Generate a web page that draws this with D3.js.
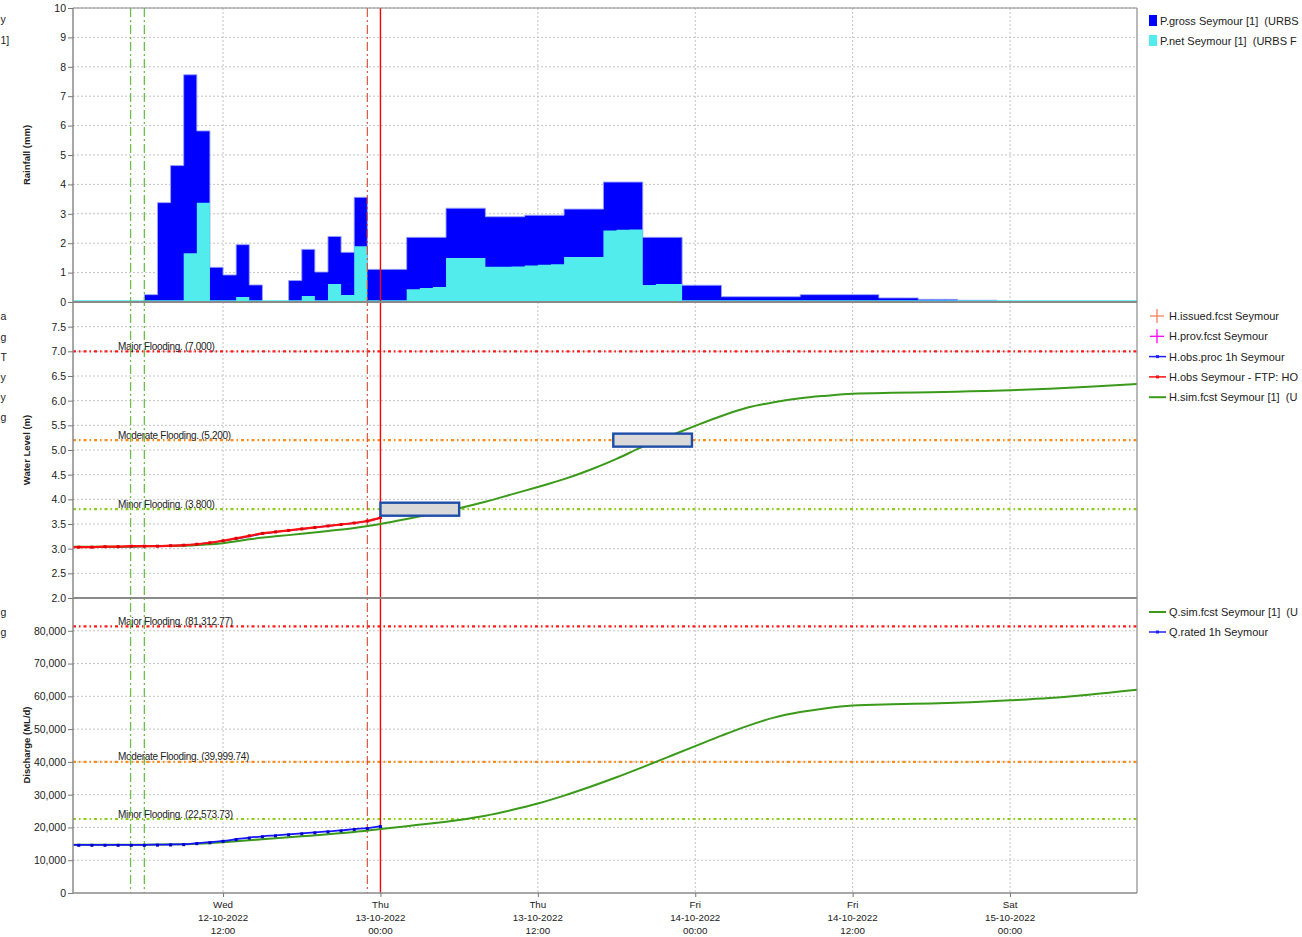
<!DOCTYPE html>
<html><head><meta charset="utf-8">
<script src="https://cdn.jsdelivr.net/npm/d3@7"></script>
<style>
body{margin:0;background:#fff;overflow:hidden}
text{font-family:"Liberation Sans",Arial,sans-serif;fill:#222;white-space:pre}
</style>
</head><body>
<svg id="c" width="1302" height="937"></svg>
<script>
// ---------------- DATA ----------------
// rainfall: hourly values starting 12-10-2022 00:00 (hour index 0)
const pGross = [0,0,0,0,0,0,0.25,3.38,4.64,7.73,5.82,1.18,0.92,1.95,0.58,0,0,0.73,1.79,1.02,2.23,1.69,3.56,
  1.11,1.11,1.11,2.20,2.20,2.20,3.19,3.19,3.19,2.90,2.90,2.90,2.95,2.95,2.95,3.16,3.16,3.16,4.08,4.08,4.08,
  2.20,2.20,2.20,0.57,0.57,0.57,0.18,0.18,0.18,0.18,0.18,0.18,0.25,0.25,0.25,0.25,0.25,0.25,0.14,0.14,0.14,
  0.09,0.09,0.09,0.06,0.06,0.06,0,0,0,0,0,0,0,0,0,0,0];
const pNet = [0,0,0,0,0,0,0,0,0,1.66,3.38,0,0,0.17,0,0,0,0,0.20,0,0.61,0.24,1.90,
  0,0,0,0.43,0.48,0.51,1.50,1.50,1.50,1.20,1.20,1.21,1.24,1.27,1.28,1.53,1.53,1.53,2.43,2.46,2.47,
  0.58,0.61,0.61,0.05,0.05,0.05,0,0,0,0,0,0,0,0,0,0,0,0,0,0,0,
  0,0,0,0,0,0,0,0,0,0,0,0,0,0,0,0,0];

// observed (hourly, hour 0..24)
const obsHours = [0,1,2,3,4,5,6,7,8,9,10,11,12,13,14,15,16,17,18,19,20,21,22,23,24];
const hObs     = [3.03,3.03,3.03,3.04,3.04,3.05,3.05,3.05,3.06,3.07,3.09,3.12,3.16,3.21,3.26,3.31,3.34,3.37,3.40,3.43,3.46,3.49,3.52,3.56,3.63];
const hObsProc = [3.03,3.03,3.03,3.04,3.04,3.04,3.05,3.05,3.06,3.07,3.09,3.12,3.16,3.20,3.25,3.30,3.34,3.37,3.40,3.43,3.46,3.49,3.52,3.56,3.62];
const qRated   = [14700,14700,14700,14700,14700,14700,14700,14750,14800,14900,15200,15500,15900,16400,16900,17300,17600,17900,18200,18500,18800,19100,19500,19800,20400];

// simulated forecast (hours from 12-10-2022 00:00)
const simHours = [0,3,6,9,10.5,12,14,16,18,20,22,24,26,28,30,32,34,36,38,40,42,44,46,48,50,52,54,56,58,60,63,66,69,72,75,78,81.7];
const hSim = [3.04,3.04,3.05,3.06,3.08,3.11,3.19,3.25,3.30,3.36,3.42,3.50,3.60,3.71,3.82,3.95,4.10,4.25,4.41,4.60,4.82,5.07,5.28,5.49,5.69,5.86,5.97,6.05,6.10,6.14,6.16,6.17,6.19,6.21,6.24,6.28,6.34];
const qSim = [14700,14700,14750,14850,15100,15500,16100,16700,17300,17900,18600,19500,20400,21300,22300,23600,25300,27300,29700,32400,35300,38400,41600,44800,48000,51000,53500,55200,56400,57200,57600,57800,58200,58800,59500,60500,62000];

// flood classes
const floodNames = ["Major Flooding.", "Moderate Flooding.", "Minor Flooding."];
const floodLevelsH = [7.0, 5.2, 3.8];
const floodLabelsH = ["(7.000)", "(5.200)", "(3.800)"];
const floodLevelsQ = [81312.77, 39999.74, 22573.73];
const floodLabelsQ = ["(81,312.77)", "(39,999.74)", "(22,573.73)"];

// forecast class windows (start hour, end hour, level)
const boxStart = [24, 41.75];
const boxEnd   = [30, 47.75];
const boxLevel = [3.8, 5.2];

// vertical markers (hours)
const greenMarks = [4.95, 6.0];
const redDashMark = 23.0;
const nowMark = 24.0;

// axis ticks
const xTickHours = [12, 24, 36, 48, 60, 72];
const rainTicks = [0,1,2,3,4,5,6,7,8,9,10];
const levelTicks = [2.0,2.5,3.0,3.5,4.0,4.5,5.0,5.5,6.0,6.5,7.0,7.5];
const flowTicks = [0,10000,20000,30000,40000,50000,60000,70000,80000];

// legends (as much as is visible in the window)
const legRain = ["P.gross Seymour [1]  (URBS", "P.net Seymour [1]  (URBS F"];
const legLevel = ["H.issued.fcst Seymour", "H.prov.fcst Seymour", "H.obs.proc 1h Seymour", "H.obs Seymour - FTP: HO", "H.sim.fcst Seymour [1]  (U"];
const legFlow = ["Q.sim.fcst Seymour [1]  (U", "Q.rated 1h Seymour"];

// ---------------- DRAW ----------------
const base = new Date(2022, 9, 12, 0, 0);
const T = h => new Date(base.getTime() + h * 3600e3);
const L = 73, R = 1137;
const x = d3.scaleTime().domain([T(0.56), T(81.68)]).range([L, R]);
const yR = d3.scaleLinear().domain([0, 10]).range([302, 8]);
const yH = d3.scaleLinear().domain([2, 8]).range([598, 302]);
const yQ = d3.scaleLinear().domain([0, 90000]).range([893, 598]);

const svg = d3.select("#c");
const defs = svg.append("defs");
[["cR",8,302],["cH",302,598],["cQ",598,893]].forEach(([id,a,b])=>{
  defs.append("clipPath").attr("id",id).append("rect").attr("x",L).attr("y",a).attr("width",R-L).attr("height",b-a);
});

const gridCol = "#c4c4c4";
function grid(y, ticks, top, bot){
  const g = svg.append("g");
  g.selectAll("line.h").data(ticks).join("line")
    .attr("x1",L).attr("x2",R).attr("y1",d=>y(d)).attr("y2",d=>y(d))
    .attr("stroke",gridCol).attr("stroke-dasharray","2,2").attr("stroke-width",1);
  g.selectAll("line.v").data(xTickHours).join("line")
    .attr("x1",d=>x(T(d))).attr("x2",d=>x(T(d))).attr("y1",top).attr("y2",bot)
    .attr("stroke",gridCol).attr("stroke-dasharray","2,2").attr("stroke-width",1);
}
grid(yR, rainTicks.slice(1), 8, 302);
grid(yH, levelTicks.slice(1), 302, 598);
grid(yQ, flowTicks.slice(1), 598, 893);

// rainfall histograms (hourly step areas)
const gRain = svg.append("g").attr("clip-path","url(#cR)");
const withEnd = arr => arr.concat([arr[arr.length-1]]);
const grossArea = d3.area().curve(d3.curveStepAfter)
  .x((d,i)=>x(T(i))).y0(yR(0)).y1(d=>yR(d));
gRain.append("path").datum(withEnd(pGross)).attr("d",grossArea)
  .attr("fill","#0000ff").attr("stroke","#9aa0ff").attr("stroke-width",0.9);
const netArea = d3.area().curve(d3.curveStepAfter)
  .x((d,i)=>x(T(i))).y0(yR(0)).y1(d=>Math.min(yR(d), yR(0)-1.8));
gRain.append("path").datum(withEnd(pNet)).attr("d",netArea).attr("fill","#52ecec");

// flood lines
const floodCols = ["#ff1a1a", "#ff8c1a", "#8ccf1e"];
function floodLines(y, levels, labels, clip){
  const g = svg.append("g").attr("clip-path",`url(#${clip})`);
  g.selectAll("line").data(levels).join("line")
    .attr("x1",L).attr("x2",R).attr("y1",d=>y(d)).attr("y2",d=>y(d))
    .attr("stroke",(d,i)=>floodCols[i]).attr("stroke-width",2.2).attr("stroke-dasharray","3,3,1.5,3");
  svg.append("g").selectAll("text").data(levels).join("text")
    .attr("x",118).attr("y",d=>y(d)-1.5).attr("font-size",10).attr("letter-spacing",-0.3).attr("fill","#111")
    .text((d,i)=>floodNames[i]+" "+labels[i]);
}
floodLines(yH, floodLevelsH, floodLabelsH, "cH");
floodLines(yQ, floodLevelsQ, floodLabelsQ, "cQ");

// vertical markers
const vm = svg.append("g");
vm.selectAll("line.gm").data(greenMarks).join("line")
  .attr("x1",d=>x(T(d))).attr("x2",d=>x(T(d))).attr("y1",8).attr("y2",893)
  .attr("stroke","#6cc04a").attr("stroke-width",1.3).attr("stroke-dasharray","9,3,2,3");
vm.append("line").attr("x1",x(T(redDashMark))).attr("x2",x(T(redDashMark))).attr("y1",8).attr("y2",893)
  .attr("stroke","#e0452e").attr("stroke-width",1.1).attr("stroke-dasharray","9,3,2,3");
vm.append("line").attr("x1",x(T(nowMark))).attr("x2",x(T(nowMark))).attr("y1",8).attr("y2",893)
  .attr("stroke","#ff0000").attr("stroke-width",1.4);

// lines
const lineH = (xs) => d3.line().x((d,i)=>x(T(xs[i]))).y(d=>yH(d)).curve(d3.curveMonotoneX);
const lineQ = (xs) => d3.line().x((d,i)=>x(T(xs[i]))).y(d=>yQ(d)).curve(d3.curveMonotoneX);
const gH = svg.append("g").attr("clip-path","url(#cH)");
gH.append("path").datum(hObsProc).attr("d",lineH(obsHours)).attr("fill","none").attr("stroke","#2020ff").attr("stroke-width",1.5);
gH.append("path").datum(hSim).attr("d",lineH(simHours)).attr("fill","none").attr("stroke","#3a9a1a").attr("stroke-width",2);
gH.append("path").datum(hObs).attr("d",lineH(obsHours)).attr("fill","none").attr("stroke","#ff1010").attr("stroke-width",2.2);
gH.selectAll("rect.m").data(hObs).join("rect")
  .attr("x",(d,i)=>x(T(obsHours[i]))-1.5).attr("y",d=>yH(d)-1.5).attr("width",3).attr("height",3).attr("fill","#e00000");

// forecast boxes
svg.append("g").selectAll("rect").data(boxLevel).join("rect")
  .attr("x",(d,i)=>x(T(boxStart[i]))).attr("width",(d,i)=>x(T(boxEnd[i]))-x(T(boxStart[i])))
  .attr("y",d=>yH(d)-6.5).attr("height",13)
  .attr("fill","#d9d9d9").attr("stroke","#1f4ea8").attr("stroke-width",2.4);

const gQ = svg.append("g").attr("clip-path","url(#cQ)");
gQ.append("path").datum(qSim).attr("d",lineQ(simHours)).attr("fill","none").attr("stroke","#3a9a1a").attr("stroke-width",2);
gQ.append("path").datum(qRated).attr("d",lineQ(obsHours)).attr("fill","none").attr("stroke","#1515ff").attr("stroke-width",1.8);
gQ.selectAll("rect.m").data(qRated).join("rect")
  .attr("x",(d,i)=>x(T(obsHours[i]))-1.5).attr("y",d=>yQ(d)-1).attr("width",3).attr("height",3).attr("fill","#0000cc");

// frame
const fr = svg.append("g").attr("stroke","#8a8a8a").attr("fill","none");
fr.append("line").attr("x1",L).attr("x2",R).attr("y1",8).attr("y2",8).attr("stroke-width",1.2);
fr.append("line").attr("x1",L).attr("x2",R).attr("y1",302).attr("y2",302).attr("stroke-width",2);
fr.append("line").attr("x1",L).attr("x2",R).attr("y1",598).attr("y2",598).attr("stroke-width",2);
fr.append("line").attr("x1",L).attr("x2",R).attr("y1",893).attr("y2",893).attr("stroke-width",1.5);
fr.append("line").attr("x1",L).attr("x2",L).attr("y1",8).attr("y2",893).attr("stroke-width",1.5);
fr.append("line").attr("x1",R).attr("x2",R).attr("y1",8).attr("y2",893).attr("stroke-width",1.2);

// y axes
function yAxis(y, ticks, fmt){
  const g = svg.append("g").attr("transform",`translate(${L},0)`)
    .call(d3.axisLeft(y).tickValues(ticks).tickFormat(fmt).tickSize(5).tickPadding(2));
  g.select(".domain").remove();
  g.selectAll(".tick line").attr("stroke","#777");
  g.selectAll(".tick text").attr("font-size",10.5).attr("font-family","Liberation Sans, Arial, sans-serif").attr("fill","#222");
}
yAxis(yR, rainTicks, d3.format("d"));
yAxis(yH, levelTicks, d3.format(".1f"));
yAxis(yQ, flowTicks, d3.format(","));

// x axis
const xa = svg.append("g").attr("transform","translate(0,893)")
  .call(d3.axisBottom(x).tickValues(xTickHours.map(T)).tickSize(4).tickFormat(""));
xa.select(".domain").remove();
xa.selectAll(".tick line").attr("stroke","#777");
const fmts = [d3.timeFormat("%a"), d3.timeFormat("%d-%m-%Y"), d3.timeFormat("%H:%M")];
svg.append("g").selectAll("g").data(xTickHours).join("g").each(function(h){
  const g = d3.select(this);
  fmts.forEach((f,k)=>{
    g.append("text").attr("x",x(T(h))).attr("y",908+k*13).attr("text-anchor","middle")
      .attr("font-size",9.8).text(f(T(h)));
  });
});

// axis titles
[["Rainfall (mm)",155],["Water Level (m)",450],["Discharge (ML/d)",745]].forEach(([t,cy])=>{
  svg.append("text").attr("transform",`translate(30,${cy}) rotate(-90)`).attr("text-anchor","middle")
    .attr("font-size",9.5).attr("font-weight","bold").text(t);
});

// legends
const lg = svg.append("g");
const LF = 11;
legRain.forEach((t,i)=>{
  lg.append("rect").attr("x",1149).attr("y",15+i*20).attr("width",8).attr("height",11).attr("fill",i?"#52ecec":"#0000ff");
  lg.append("text").attr("x",1160).attr("y",25+i*20).attr("font-size",LF).text(t);
});
const levCols = ["#f4805c","#ff00ff","#2020ff","#ff1010","#3a9a1a"];
legLevel.forEach((t,i)=>{
  const cy = 316+i*20.3;
  if(i<2){
    lg.append("line").attr("x1",1150).attr("x2",1164).attr("y1",cy).attr("y2",cy).attr("stroke",levCols[i]).attr("stroke-width",1.3);
    lg.append("line").attr("x1",1157).attr("x2",1157).attr("y1",cy-7).attr("y2",cy+7).attr("stroke",levCols[i]).attr("stroke-width",1.3);
  } else {
    lg.append("line").attr("x1",1149).attr("x2",1166).attr("y1",cy).attr("y2",cy).attr("stroke",levCols[i]).attr("stroke-width",i==4?2:1.5);
    if(i<4) lg.append("rect").attr("x",1156).attr("y",cy-1.5).attr("width",3).attr("height",3).attr("fill",levCols[i]);
  }
  lg.append("text").attr("x",1169).attr("y",cy+4).attr("font-size",LF).text(t);
});
const flowCols = ["#3a9a1a","#2020ff"];
legFlow.forEach((t,i)=>{
  const cy = 612+i*20;
  lg.append("line").attr("x1",1149).attr("x2",1166).attr("y1",cy).attr("y2",cy).attr("stroke",flowCols[i]).attr("stroke-width",i?1.5:2);
  if(i) lg.append("rect").attr("x",1156).attr("y",cy-1.5).attr("width",3).attr("height",3).attr("fill",flowCols[i]);
  lg.append("text").attr("x",1169).attr("y",cy+4).attr("font-size",LF).text(t);
});

// visible ends of the left-hand legend (cut by the window in the original)
const leftFrag = [["y",23],["1]",44],["a",320],["g",341],["T",361],["y",381],["y",401],["g",421],["g",616],["g",636]];
svg.append("g").selectAll("text").data(leftFrag).join("text")
  .attr("x",0.5).attr("y",d=>d[1]).attr("text-anchor","start").attr("font-size",10.5).text(d=>d[0]);
</script>
</body></html>
